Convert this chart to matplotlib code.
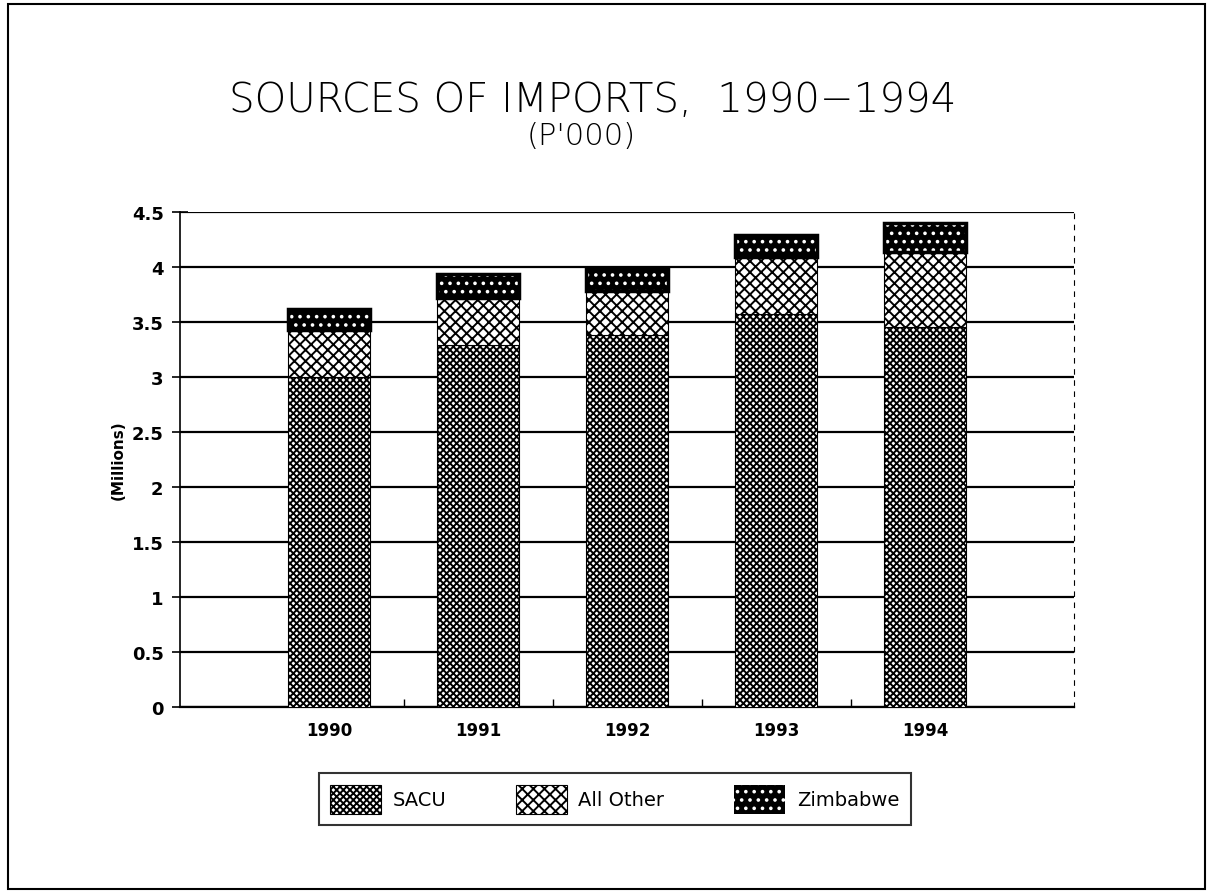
import numpy as np
import matplotlib
matplotlib.use("Agg")
import matplotlib.pyplot as plt
from matplotlib.patches import Rectangle

# datos (millones de P'000)
years = ['1990', '1991', '1992', '1993', '1994']
sacu = [3.00, 3.29, 3.38, 3.57, 3.45]
all_other = [0.43, 0.43, 0.40, 0.52, 0.69]
zimbabwe = [0.19, 0.22, 0.20, 0.20, 0.26]

plt.rcParams['hatch.linewidth'] = 1.4

fig = plt.figure(figsize=(12.1, 8.95), dpi=100)
ax = fig.add_axes([0.149, 0.209, 0.739, 0.553])

x = np.arange(len(years))
w = 0.55
sacu = np.array(sacu)
all_other = np.array(all_other)
zimbabwe = np.array(zimbabwe)

b1 = ax.bar(x, sacu, w, color='white', edgecolor='black', hatch='xxxxx', linewidth=0.8,
            label='SACU', zorder=3)
b2 = ax.bar(x, all_other, w, bottom=sacu, color='white', edgecolor='black', hatch='xxx',
            linewidth=0.8, label='All Other', zorder=3)
b3 = ax.bar(x, zimbabwe, w, bottom=sacu + all_other, color='black', edgecolor='white',
            hatch='..', linewidth=0, label='Zimbabwe', zorder=3)
# contorno negro de zimbabwe
ax.bar(x, zimbabwe, w, bottom=sacu + all_other, fill=False, edgecolor='black',
       linewidth=2.5, zorder=4)

ax.set_xlim(-1, 5)
ax.set_ylim(0, 4.5)
ax.set_yticks(np.arange(0, 4.51, 0.5))
ax.set_yticklabels(['0', '0.5', '1', '1.5', '2', '2.5', '3', '3.5', '4', '4.5'])
ax.set_xticks(x)
ax.set_xticklabels(years)
ax.set_xticks(np.arange(0.5, 4, 1), minor=True)
ax.tick_params(axis='x', which='major', length=0, pad=10, labelsize=12)
ax.tick_params(axis='x', which='minor', direction='in', length=6, width=1)
ax.tick_params(axis='y', direction='inout', length=12, width=1.2, pad=6, labelsize=13)
for lab in ax.get_xticklabels() + ax.get_yticklabels():
    lab.set_fontweight('bold')

ax.yaxis.grid(True, color='black', linewidth=1.6, zorder=1)
ax.set_axisbelow(True)
ax.spines['top'].set_visible(False)
ax.spines['right'].set_linestyle((0, (4, 6)))
ax.spines['right'].set_linewidth(0.8)
ax.spines['left'].set_linewidth(1.2)
ax.spines['bottom'].set_linewidth(1.6)

ax.set_ylabel('(Millions)', fontsize=11, fontweight='bold', labelpad=4)

fig.text(0.49, 0.888, 'SOURCES OF IMPORTS,  1990\u22121994', ha='center', va='center',
         fontsize=29, fontweight='light', family='DejaVu Sans')
fig.text(0.48, 0.847, "(P'000)", ha='center', va='center', fontsize=22,
         fontweight='light', family='DejaVu Sans')

leg = fig.legend(handles=[b1, b2, b3], loc='center', bbox_to_anchor=(0.508, 0.106),
                 ncol=3, frameon=True, fancybox=False, edgecolor='black', fontsize=14,
                 handlelength=2.6, handleheight=1.9, columnspacing=3.6, borderpad=0.6,
                 handletextpad=0.6)
leg.get_frame().set_linewidth(1.5)

# marco exterior
fig.patches.append(Rectangle((0.007, 0.006), 0.989, 0.988, transform=fig.transFigure,
                             fill=False, edgecolor='black', linewidth=1.5))

fig.savefig('out.png', dpi=100)
